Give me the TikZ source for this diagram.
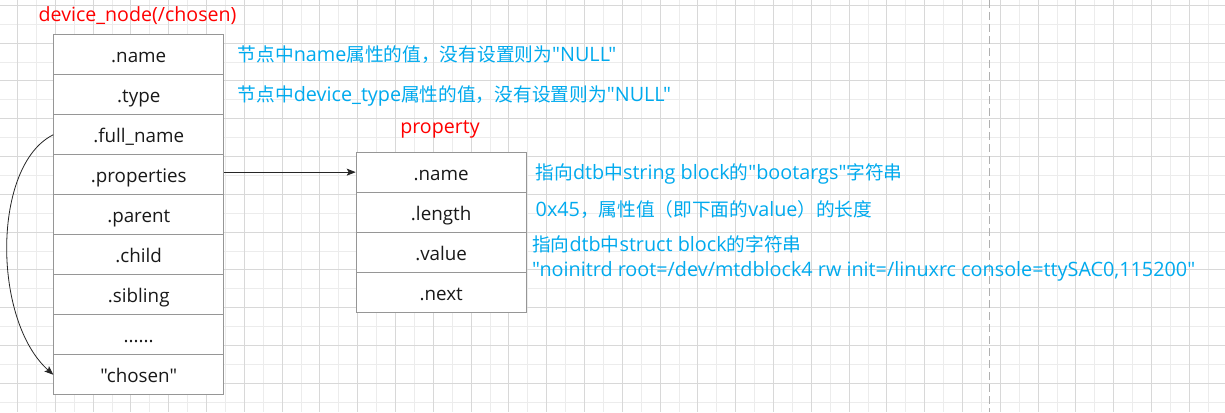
\documentclass[tikz,border=0pt]{standalone}
\usepackage{fontspec}
\setmainfont{Open Sans}[Ligatures=TeXOff]
\newfontfamily\cjk{Noto Sans CJK SC}[Ligatures=TeXOff]
\usetikzlibrary{arrows.meta}
\definecolor{gridd}{RGB}{216,216,216}
\definecolor{gridl}{RGB}{236,236,236}
\definecolor{boxline}{RGB}{150,150,150}
\definecolor{bluetxt}{RGB}{0,170,238}
\definecolor{dashc}{RGB}{176,176,176}
\tikzset{
  cell/.style={draw=boxline, fill=white, line width=0.9pt, minimum width=170pt, minimum height=40pt, inner sep=0pt, text height=16pt, text depth=0pt, font=\fontsize{18.8}{21}\selectfont, text=black!90, anchor=north west},
  note/.style={text=bluetxt, font=\fontsize{19.8}{22}\selectfont, anchor=base west, inner sep=0pt},
  title/.style={text=red, font=\fontsize{19.6}{22}\selectfont, inner sep=0pt}
}
\tikzset{
  conn/.style={draw=black!85, line width=0.8pt, -{Stealth[length=9pt,width=7pt,inset=2pt]}}
}
\newcommand{\zh}[1]{{\cjk\fontsize{18.7}{21}\selectfont #1}}
\begin{document}
\begin{tikzpicture}[x=1pt,y=-1pt]
\useasboundingbox (0,0) rectangle (1225,412);
\fill[white] (0,0) rectangle (1225,412);
% grid
\foreach \i in {0,...,33} {
  \draw[gridl, line width=0.9pt] ({-1.4+37.8*\i},0) -- ++(0,412);
}
\foreach \i in {0,...,10} {
  \draw[gridl, line width=0.9pt] (0,{24.2+37.8*\i}) -- ++(1225,0);
}
\foreach \i in {0,...,32} {
  \draw[gridd, line width=0.9pt] ({17.5+37.8*\i},0) -- ++(0,412);
}
\foreach \i in {0,...,10} {
  \draw[gridd, line width=0.9pt] (0,{5.3+37.8*\i}) -- ++(1225,0);
}
\draw[dashc, line width=1pt, dash pattern=on 8pt off 4pt] (989.3,0) coordinate (dtop) -- (989.3,412) coordinate (dbot);
% left struct
\node[cell] (lname) at (53.3,34.3) {.name};
\node[cell] (ltype) at (53.3,74.3) {.type};
\node[cell] (lfull) at (53.3,114.3) {.full\_name};
\node[cell] (lprop) at (53.3,154.3) {.properties};
\node[cell] (lpar) at (53.3,194.3) {.parent};
\node[cell] (lchild) at (53.3,234.3) {.child};
\node[cell] (lsib) at (53.3,274.3) {.sibling};
\node[cell] (ldots) at (53.3,314.3) {......};
\node[cell] (lchosen) at (53.3,354.3) {"chosen"};
% right struct
\node[cell] (rname) at (355.7,151.7) {.name};
\node[cell] (rlen) at (355.7,191.7) {.length};
\node[cell] (rval) at (355.7,231.7) {.value};
\node[cell] (rnext) at (355.7,271.7) {.next};
% titles
\node[title, anchor=base west] (t1) at (38.5,21.3) {device\_node(/chosen)};
\node[title, anchor=base] (t2) at (440,133) {property};
% notes
\node[note] (n1) at (237.5,61.3) {\zh{节点中}name\zh{属性的值，没有设置则为}"NULL"};
\node[note] (n2) at (237.5,101.3) {\zh{节点中}device\_type\zh{属性的值，没有设置则为}"NULL"};
\node[note] (n3) at (535.5,179.3) {\zh{指向}dtb\zh{中}string block\zh{的}"bootargs"\zh{字符串}};
\node[note] (n4) at (535.5,216.8) {0x45\zh{，属性值（即下面的}value\zh{）的长度}};
\node[note] (n5) at (532,251.7) {\zh{指向}dtb\zh{中}struct block\zh{的字符串}};
\node[note] (n6) at (532,276.3) {"noinitrd root=/dev/mtdblock4 rw init=/linuxrc console=ttySAC0,115200"};
% connectors
\draw[conn] (lprop.east |- rname.west) -- (rname.west);
\draw[conn] (lfull.west) .. controls (-8,165) and (-8,320) .. (lchosen.west);
\end{tikzpicture}
\end{document}
